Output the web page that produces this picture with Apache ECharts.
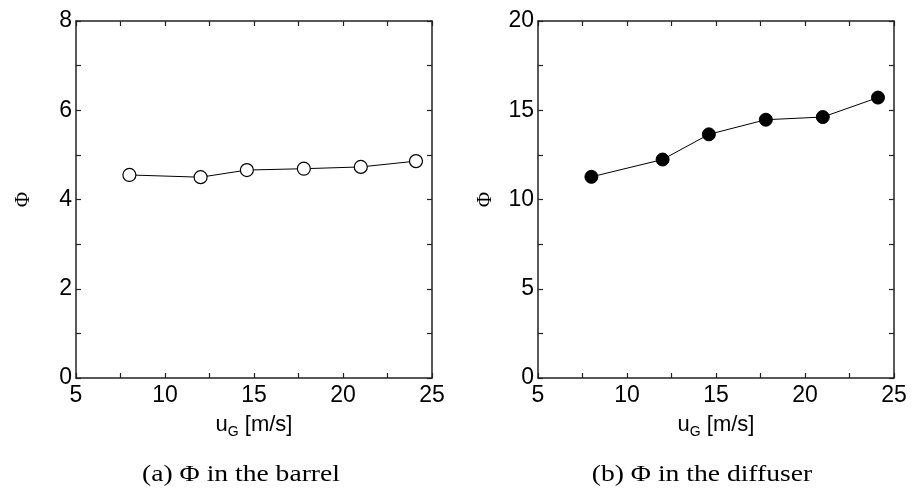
<!DOCTYPE html>
<html><head><meta charset="utf-8">
<script src="https://cdn.jsdelivr.net/npm/echarts@6/dist/echarts.min.js"></script>
<style>html,body{margin:0;padding:0;background:#fff}#c{width:920px;height:488px}</style>
</head><body><div id="c"></div>
<script>
// data
const uG = [8, 12, 14.6, 17.8, 21, 24.1];
const phiBarrel = [4.55, 4.50, 4.66, 4.69, 4.73, 4.86];
const phiDiffuser = [11.27, 12.24, 13.65, 14.47, 14.62, 15.71];
const xTickValues = [5, 10, 15, 20, 25];
const yTickBarrel = [0, 2, 4, 6, 8];
const yTickDiffuser = [0, 5, 10, 15, 20];
const captions = ['(a) \u03A6 in the barrel', '(b) \u03A6 in the diffuser'];
const xName = '{a|u}{b|G}{a| [m/s]}';
const yName = '\u03A6';

const AX = '#222';
const tickStyle = {show: true, inside: true, length: 5, lineStyle: {color: AX, width: 1.2}};
const minorStyle = {show: true, splitNumber: 2, length: 5, lineStyle: {color: AX, width: 1.2}};
const lineAx = {show: true, onZero: false, lineStyle: {color: AX, width: 1.5}};
const xlbl = {color: '#000', fontFamily: 'Liberation Sans', fontSize: 23, margin: 6};
const ylbl = {color: '#000', fontFamily: 'Liberation Sans', fontSize: 23, margin: 4};

function xAxes(gi, ticks) {
  const base = {type: 'value', gridIndex: gi, min: ticks[0], max: ticks[ticks.length - 1],
    interval: ticks[1] - ticks[0], splitLine: {show: false}, axisLine: lineAx,
    axisTick: tickStyle, minorTick: minorStyle};
  return [
    Object.assign({}, base, {position: 'bottom', axisLabel: xlbl, name: xName,
      nameLocation: 'middle', nameGap: 36,
      nameTextStyle: {color: '#000', fontFamily: 'Liberation Sans', fontSize: 22,
        rich: {a: {fontFamily: 'Liberation Sans', fontSize: 22, color: '#000', verticalAlign: 'bottom'},
               b: {fontFamily: 'Liberation Sans', fontSize: 14, color: '#000', verticalAlign: 'bottom', padding: [0,0,-3,0]}}}}),
    Object.assign({}, base, {position: 'top', axisLabel: {show: false}})
  ];
}
function yAxes(gi, ticks) {
  const base = {type: 'value', gridIndex: gi, min: ticks[0], max: ticks[ticks.length - 1],
    interval: ticks[1] - ticks[0], splitLine: {show: false}, axisLine: lineAx,
    axisTick: tickStyle, minorTick: minorStyle};
  return [
    Object.assign({}, base, {position: 'left', axisLabel: ylbl, name: yName,
      nameLocation: 'middle', nameGap: 42, nameRotate: 90,
      nameTextStyle: {color: '#000', fontFamily: 'Liberation Serif', fontSize: 21}}),
    Object.assign({}, base, {position: 'right', axisLabel: {show: false}})
  ];
}

const chart = echarts.init(document.getElementById('c'), null, {renderer: 'canvas'});
chart.setOption({
  backgroundColor: '#fff',
  animation: false,
  grid: [
    {left: 76, right: 488, top: 21, bottom: 110},
    {left: 538, right: 26, top: 21, bottom: 110}
  ],
  xAxis: xAxes(0, xTickValues).concat(xAxes(1, xTickValues)),
  yAxis: yAxes(0, yTickBarrel).concat(yAxes(1, yTickDiffuser)),
  series: [
    {type: 'line', xAxisIndex: 0, yAxisIndex: 0, data: uG.map((x, i) => [x, phiBarrel[i]]),
     symbol: 'circle', symbolSize: 13, lineStyle: {color: '#000', width: 1},
     itemStyle: {color: '#fff', borderColor: '#000', borderWidth: 1.2}},
    {type: 'line', xAxisIndex: 2, yAxisIndex: 2, data: uG.map((x, i) => [x, phiDiffuser[i]]),
     symbol: 'circle', symbolSize: 13, lineStyle: {color: '#000', width: 1},
     itemStyle: {color: '#000', borderColor: '#000', borderWidth: 1}}
  ],
  graphic: [
    {type: 'text', x: 241, y: 475, scaleX: 1.2, style: {text: captions[0], textAlign: 'center', textVerticalAlign: 'middle',
      font: '23px "Liberation Serif"', fill: '#000'}},
    {type: 'text', x: 702, y: 475, scaleX: 1.2, style: {text: captions[1], textAlign: 'center', textVerticalAlign: 'middle',
      font: '23px "Liberation Serif"', fill: '#000'}}
  ]
});
</script></body></html>
